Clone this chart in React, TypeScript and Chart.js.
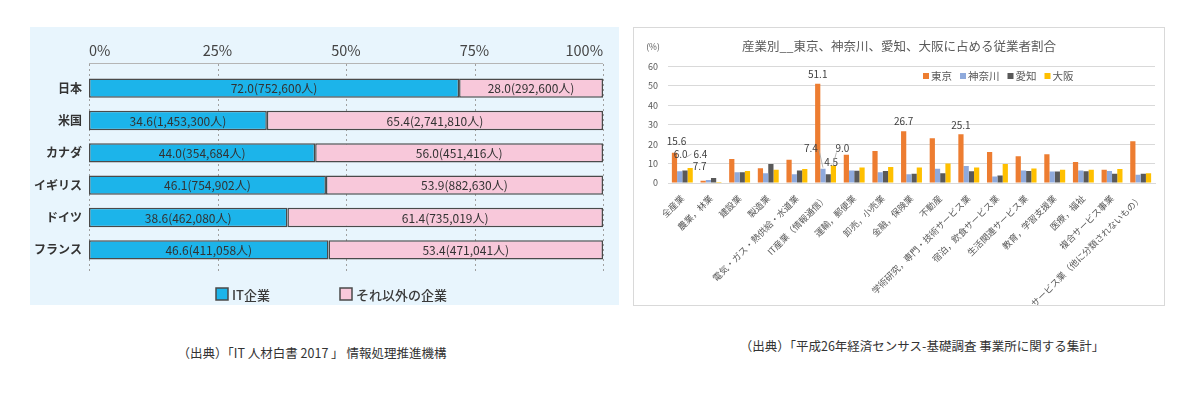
import React, { useEffect, useRef } from "react";
import { Chart, registerables } from "chart.js";
Chart.register(...registerables);

const FONT = '"Noto Sans CJK JP", "Noto Sans", sans-serif';

// ---- Left chart data ----
const countries = ["日本", "米国", "カナダ", "イギリス", "ドイツ", "フランス"];
const itShare = [72.0, 34.6, 44.0, 46.1, 38.6, 46.6];
const itCount = [752600, 1453300, 354684, 754902, 462080, 411058];
const otherShare = [28.0, 65.4, 56.0, 53.9, 61.4, 53.4];
const otherCount = [292600, 2741810, 451416, 882630, 735019, 471041];
const shareTicks = [0, 25, 50, 75, 100];
const leftSeriesNames = ["IT企業", "それ以外の企業"];

// ---- Right chart data ----
const industries = [
  "全産業",
  "農業，林業",
  "建設業",
  "製造業",
  "電気・ガス・熱供給・水道業",
  "IT産業（情報通信）",
  "運輸，郵便業",
  "卸売，小売業",
  "金融，保険業",
  "不動産",
  "学術研究，専門・技術サービス業",
  "宿泊，飲食サービス業",
  "生活関連サービス業",
  "教育，学習支援業",
  "医療，福祉",
  "複合サービス事業",
  "サービス業（他に分類されないもの）",
];
const tokyo = [15.6, 1.2, 12.3, 7.6, 12.0, 51.1, 14.5, 16.5, 26.7, 23.0, 25.1, 16.0, 13.8, 14.8, 10.8, 6.8, 21.5];
const kanagawa = [6.0, 1.5, 5.5, 5.0, 4.5, 7.4, 6.5, 5.5, 4.5, 7.3, 8.8, 3.4, 6.5, 5.9, 6.5, 6.2, 4.3];
const aichi = [6.4, 2.6, 5.5, 9.8, 6.5, 4.5, 6.3, 6.2, 4.8, 5.0, 6.0, 3.8, 6.2, 5.9, 6.0, 4.8, 4.8];
const osaka = [7.7, 0.5, 6.2, 6.8, 7.2, 9.0, 8.0, 8.3, 8.0, 10.0, 8.0, 9.8, 7.5, 6.8, 6.8, 7.2, 5.0];
const pctTicks = [0, 10, 20, 30, 40, 50, 60];
const prefNames = ["東京", "神奈川", "愛知", "大阪"];
const rightTitle = "産業別__東京、神奈川、愛知、大阪に占める従業者割合";

// labelled bars: [categoryIndex, seriesIndex]
const labelledBars = [
  [0, 0], [0, 1], [0, 2], [0, 3],
  [5, 0], [5, 1], [5, 2], [5, 3],
  [8, 0], [10, 0],
];
// placement of those labels (offset from bar top) and optional leader line
const labelPlacement = [
  { dx: 2, dy: -11.5 },
  { dx: 1, dy: -17 },
  { dx: 15.5, dy: -16.5, lead: [-9, 0, -14, 3] },
  { dx: 9.5, dy: -2 },
  { dx: 0, dy: -10 },
  { dx: -12, dy: -20, lead: [8, 1, 12, 19] },
  { dx: 3, dy: -12 },
  { dx: 9, dy: -17, lead: [-6, 4, -9, 15] },
  { dx: 0, dy: -10 },
  { dx: 0, dy: -9.5 },
];

const fmt = (n: number) => n.toLocaleString("en-US");

export default function App() {
  const leftRef = useRef<HTMLCanvasElement>(null);
  const rightRef = useRef<HTMLCanvasElement>(null);

  useEffect(() => {
    const leftDecor = {
      id: "leftDecor",
      beforeDatasetsDraw(chart: any) {
        const { ctx, chartArea } = chart;
        const xs = chart.scales.x;
        ctx.save();
        ctx.strokeStyle = "#b5b5b5";
        ctx.lineWidth = 1;
        ctx.beginPath();
        ctx.moveTo(chartArea.left, chartArea.top - 8.5);
        ctx.lineTo(chartArea.right, chartArea.top - 8.5);
        ctx.stroke();
        ctx.setLineDash([2, 3]);
        ctx.strokeStyle = "#a0a0a0";
        shareTicks.forEach((v) => {
          const x = Math.round(xs.getPixelForValue(v)) + 0.5;
          ctx.beginPath();
          ctx.moveTo(x, chartArea.top - 8);
          ctx.lineTo(x, chartArea.bottom + 7);
          ctx.stroke();
        });
        ctx.restore();
      },
      afterDatasetsDraw(chart: any) {
        const { ctx } = chart;
        ctx.save();
        ctx.font = `12px ${FONT}`;
        ctx.fillStyle = "#333";
        ctx.textAlign = "center";
        ctx.textBaseline = "middle";
        chart.data.datasets.forEach((ds: any, di: number) => {
          const counts = di === 0 ? itCount : otherCount;
          chart.getDatasetMeta(di).data.forEach((bar: any, i: number) => {
            const p = bar.getProps(["x", "base", "y"], true);
            ctx.fillText(`${ds.data[i].toFixed(1)}(${fmt(counts[i])}人)`, (p.x + p.base) / 2, p.y + 0.5);
          });
        });
        // legend
        ctx.font = `500 13px ${FONT}`;
        ctx.textAlign = "left";
        const legendX = [186, 310];
        chart.data.datasets.forEach((ds: any, di: number) => {
          const x = legendX[di];
          const y = 267;
          ctx.fillStyle = ds.backgroundColor;
          ctx.fillRect(x, y - 6, 12, 12);
          ctx.strokeStyle = "#4a4a4a";
          ctx.lineWidth = 1.5;
          ctx.strokeRect(x, y - 6, 12, 12);
          ctx.fillStyle = "#3a3a3a";
          ctx.fillText(ds.label, x + 16, y + 1);
        });
        ctx.restore();
      },
    };

    const left = new Chart(leftRef.current!, {
      type: "bar",
      data: {
        labels: countries,
        datasets: [
          {
            label: leftSeriesNames[0],
            data: itShare,
            backgroundColor: "#1cb4ea",
            borderColor: "#4a4a4a",
            borderWidth: 1.5,
            borderSkipped: false,
            categoryPercentage: 1,
            barPercentage: 0.6,
          },
          {
            label: leftSeriesNames[1],
            data: otherShare,
            backgroundColor: "#f8c8da",
            borderColor: "#4a4a4a",
            borderWidth: 1.5,
            borderSkipped: false,
            categoryPercentage: 1,
            barPercentage: 0.6,
          },
        ],
      },
      options: {
        indexAxis: "y",
        animation: false,
        responsive: false,
        maintainAspectRatio: false,
        layout: { padding: { top: 0, right: 16, bottom: 39, left: 0 } },
        plugins: { legend: { display: false }, tooltip: { enabled: false } },
        scales: {
          x: {
            type: "linear",
            position: "top",
            stacked: true,
            min: 0,
            max: 100,
            afterBuildTicks: (s: any) => {
              s.ticks = shareTicks.map((v) => ({ value: v }));
            },
            ticks: {
              align: "inner",
              padding: 13,
              color: "#444",
              font: { family: FONT, size: 14.5 },
              callback: (v: any) => v + "%",
            },
            grid: { display: false, drawTicks: false },
            border: { display: false },
            afterFit: (s: any) => {
              s.height = 45;
            },
          },
          y: {
            stacked: true,
            ticks: { padding: 7, color: "#333", font: { family: FONT, size: 12, weight: "bold" } },
            grid: { display: false, drawTicks: false },
            border: { display: false },
            afterFit: (s: any) => {
              s.width = 59;
            },
          },
        },
      } as any,
      plugins: [leftDecor],
    });

    const rightDecor = {
      id: "rightDecor",
      afterDatasetsDraw(chart: any) {
        const { ctx } = chart;
        ctx.save();
        // title
        ctx.fillStyle = "#595959";
        ctx.font = `12.5px ${FONT}`;
        ctx.textAlign = "center";
        ctx.textBaseline = "middle";
        ctx.fillText(rightTitle, chart.width / 2, 18);
        ctx.font = `8.5px ${FONT}`;
        ctx.fillText("(%)", 19, 19);
        // legend
        ctx.font = `10.5px ${FONT}`;
        ctx.textAlign = "left";
        let lx = 289;
        chart.data.datasets.forEach((ds: any) => {
          ctx.fillStyle = ds.backgroundColor;
          ctx.fillRect(lx, 45, 6, 6);
          ctx.fillStyle = "#595959";
          ctx.fillText(ds.label, lx + 8, 48.5);
          lx += 8 + ctx.measureText(ds.label).width + 8;
        });
        // data labels
        ctx.font = `10px ${FONT}`;
        ctx.textAlign = "center";
        labelledBars.forEach(([ci, si], k) => {
          const bar: any = chart.getDatasetMeta(si).data[ci];
          const p = bar.getProps(["x", "y"], true);
          const pl: any = labelPlacement[k];
          const v = chart.data.datasets[si].data[ci];
          const tx = p.x + pl.dx;
          const ty = p.y + pl.dy;
          if (pl.lead) {
            ctx.strokeStyle = "#a6a6a6";
            ctx.lineWidth = 0.8;
            ctx.beginPath();
            ctx.moveTo(tx + pl.lead[0], ty + pl.lead[1]);
            ctx.lineTo(tx + pl.lead[2], ty + pl.lead[3]);
            ctx.stroke();
          }
          ctx.fillStyle = "#404040";
          ctx.fillText(Number(v).toFixed(1), tx, ty);
        });
        ctx.restore();
      },
    };

    const right = new Chart(rightRef.current!, {
      type: "bar",
      data: {
        labels: industries,
        datasets: [
          { label: prefNames[0], data: tokyo, backgroundColor: "#ed7d31" },
          { label: prefNames[1], data: kanagawa, backgroundColor: "#8faadc" },
          { label: prefNames[2], data: aichi, backgroundColor: "#595959" },
          { label: prefNames[3], data: osaka, backgroundColor: "#ffc000" },
        ],
      },
      options: {
        animation: false,
        responsive: false,
        maintainAspectRatio: false,
        datasets: { bar: { categoryPercentage: 0.73, barPercentage: 1 } },
        layout: { padding: { top: 38.5, right: 9, bottom: 0, left: 0 } },
        plugins: { legend: { display: false }, tooltip: { enabled: false } },
        scales: {
          x: {
            ticks: {
              minRotation: 45,
              maxRotation: 45,
              autoSkip: false,
              padding: 2,
              color: "#595959",
              font: { family: FONT, size: 9 },
            },
            grid: { display: false },
            border: { color: "#d9d9d9" },
            afterFit: (s: any) => {
              s.height = 122;
            },
          },
          y: {
            min: 0,
            max: 60,
            afterBuildTicks: (s: any) => {
              s.ticks = pctTicks.map((v) => ({ value: v }));
            },
            ticks: { padding: 10, color: "#595959", font: { family: FONT, size: 9 } },
            grid: { color: "#d9d9d9", drawTicks: false },
            border: { display: false },
            afterFit: (s: any) => {
              s.width = 34;
            },
          },
        },
      } as any,
      plugins: [rightDecor],
    });

    return () => {
      left.destroy();
      right.destroy();
    };
  }, []);

  return (
    <div style={{ position: "absolute", left: 0, top: 0, width: 1200, height: 416, background: "#fff", fontFamily: FONT }}>
      <div style={{ position: "absolute", left: 30, top: 27, width: 589, height: 278, background: "#e8f5fd" }}>
        <canvas ref={leftRef} width={589} height={278} style={{ width: 589, height: 278, display: "block" }} />
      </div>
      <div
        style={{
          position: "absolute",
          left: 633,
          top: 27,
          width: 532,
          height: 279,
          border: "1px solid #d9d9d9",
          boxSizing: "border-box",
          background: "#fff",
        }}
      >
        <canvas ref={rightRef} width={530} height={277} style={{ width: 530, height: 277, display: "block" }} />
      </div>
      <div style={{ position: "absolute", left: 112, top: 343, width: 400, textAlign: "center", fontSize: 12.5, color: "#333", whiteSpace: "nowrap" }}>
        （出典）「IT 人材白書 2017 」 情報処理推進機構
      </div>
      <div style={{ position: "absolute", left: 722, top: 336, width: 400, textAlign: "center", fontSize: 12.5, color: "#333", whiteSpace: "nowrap" }}>
        （出典）「平成26年経済センサス-基礎調査 事業所に関する集計」
      </div>
    </div>
  );
}
